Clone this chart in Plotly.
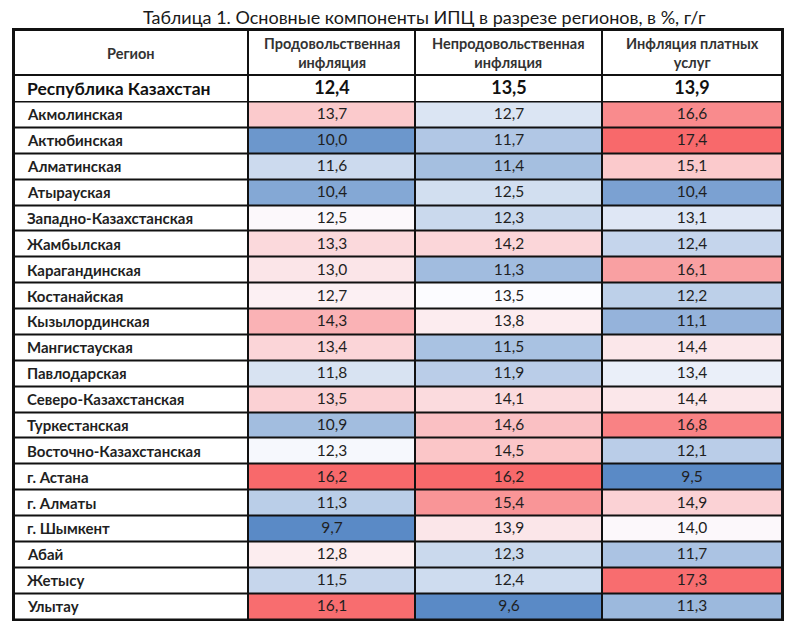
import plotly.graph_objects as go

# ---------------- data ----------------
title = "Таблица 1. Основные компоненты ИПЦ в разрезе регионов, в %, г/г"
headers = ["Регион", "Продовольственная<br>инфляция", "Непродовольственная<br>инфляция", "Инфляция платных<br>услуг"]

total_name = "Республика Казахстан"
total_vals = [12.4, 13.5, 13.9]

regions = ["Акмолинская", "Актюбинская", "Алматинская", "Атырауская", "Западно-Казахстанская",
           "Жамбылская", "Карагандинская", "Костанайская", "Кызылординская", "Мангистауская",
           "Павлодарская", "Северо-Казахстанская", "Туркестанская", "Восточно-Казахстанская",
           "г. Астана", "г. Алматы", "г. Шымкент", "Абай", "Жетысу", "Улытау"]
food = [13.7, 10.0, 11.6, 10.4, 12.5, 13.3, 13.0, 12.7, 14.3, 13.4,
        11.8, 13.5, 10.9, 12.3, 16.2, 11.3, 9.7, 12.8, 11.5, 16.1]
nonfood = [12.7, 11.7, 11.4, 12.5, 12.3, 14.2, 11.3, 13.5, 13.8, 11.5,
           11.9, 14.1, 14.6, 14.5, 16.2, 15.4, 13.9, 12.3, 12.4, 9.6]
services = [16.6, 17.4, 15.1, 10.4, 13.1, 12.4, 16.1, 12.2, 11.1, 14.4,
            13.4, 14.4, 16.8, 12.1, 9.5, 14.9, 14.0, 11.7, 17.3, 11.3]

# ---------------- layout constants (pixels) ----------------
W, H = 800, 628
COL_EDGES = [14, 248, 415, 602, 782]
HEAD_TOP, HEAD_BOT, TOTAL_BOT, TABLE_BOT = 30, 75, 101.5, 619
ROW_H = (TABLE_BOT - TOTAL_BOT) / len(regions)
ROW_EDGES = [TOTAL_BOT + i * ROW_H for i in range(len(regions) + 1)]
LABEL_X = 25

FONT = "Lato, Open Sans, sans-serif"
TXT = "#1f1f1f"
BLUE, MIDC, RED = "rgb(90,138,198)", "rgb(252,252,255)", "rgb(248,105,107)"
WHITE_SCALE = [[0, "white"], [1, "white"]]


def fmt(v):
    return ("%.1f" % v).replace(".", ",")


fig = go.Figure()

common = dict(xgap=2, ygap=2, showscale=False, hoverinfo="skip")

# header row (white bricks)
fig.add_trace(go.Heatmap(
    x=COL_EDGES, y=[HEAD_TOP, HEAD_BOT], z=[[0] * 4],
    colorscale=WHITE_SCALE, zmin=0, zmax=1, **common))

# total row
fig.add_trace(go.Heatmap(
    x=COL_EDGES, y=[HEAD_BOT, TOTAL_BOT], z=[[0] * 4],
    text=[[""] + ["<b>" + fmt(v) + "</b>" for v in total_vals]], texttemplate="%{text}",
    colorscale=WHITE_SCALE, zmin=0, zmax=1,
    textfont=dict(family=FONT, size=18, color="#111111"), **common))

# region label column
fig.add_trace(go.Heatmap(
    x=COL_EDGES[0:2], y=ROW_EDGES, z=[[0] for _ in regions],
    colorscale=WHITE_SCALE, zmin=0, zmax=1, **common))

# value columns, each with its own 3-colour scale (min / national value / max)
for i, vals in enumerate([food, nonfood, services]):
    lo, hi, mid = min(vals), max(vals), total_vals[i]
    p = (mid - lo) / (hi - lo)
    fig.add_trace(go.Heatmap(
        x=COL_EDGES[i + 1:i + 3], y=ROW_EDGES, z=[[v] for v in vals],
        text=[[fmt(v)] for v in vals], texttemplate="%{text}",
        colorscale=[[0, BLUE], [p, MIDC], [1, RED]], zmin=lo, zmax=hi,
        textfont=dict(family=FONT, size=15.5, color=TXT), **common))

# header labels
for j, h in enumerate(headers):
    fig.add_annotation(
        text="<b>" + h + "</b>", x=(COL_EDGES[j] + COL_EDGES[j + 1]) / 2, y=(HEAD_TOP + HEAD_BOT) / 2 + 1,
        xref="x", yref="y", xanchor="center", yanchor="middle", showarrow=False, align="center",
        font=dict(family=FONT, size=14.5, color="#333333"))

# row labels (left aligned)
fig.add_annotation(
    text="<b>" + total_name + "</b>", x=LABEL_X, y=(HEAD_BOT + TOTAL_BOT) / 2,
    xref="x", yref="y", xanchor="left", yanchor="middle", showarrow=False,
    font=dict(family=FONT, size=17.5, color="#111111"))
for k, r in enumerate(regions):
    fig.add_annotation(
        text="<b>" + r + "</b>", x=LABEL_X, y=(ROW_EDGES[k] + ROW_EDGES[k + 1]) / 2,
        xref="x", yref="y", xanchor="left", yanchor="middle", showarrow=False,
        font=dict(family=FONT, size=15, color=TXT))

# title
fig.add_annotation(
    text=title, xref="paper", yref="paper", x=424 / W, y=1 - 17 / H,
    xanchor="center", yanchor="middle", showarrow=False,
    font=dict(family=FONT, size=18, color="#1a1a1a"))

fig.update_xaxes(domain=[COL_EDGES[0] / W, COL_EDGES[-1] / W], range=[COL_EDGES[0], COL_EDGES[-1]],
                 showgrid=False, zeroline=False, showticklabels=False, ticks="",
                 showline=True, mirror=True, linecolor="#111111", linewidth=2, fixedrange=True)
fig.update_yaxes(domain=[1 - TABLE_BOT / H, 1 - HEAD_TOP / H], range=[TABLE_BOT, HEAD_TOP],
                 showgrid=False, zeroline=False, showticklabels=False, ticks="",
                 showline=True, mirror=True, linecolor="#111111", linewidth=2, fixedrange=True)

fig.update_layout(
    width=W, height=H,
    margin=dict(l=0, r=0, t=0, b=0),
    paper_bgcolor="white", plot_bgcolor="#111111",
    showlegend=False,
)

fig.write_html("out.html", config={"displayModeBar": False},
               post_script="document.body.style.margin='0';")
